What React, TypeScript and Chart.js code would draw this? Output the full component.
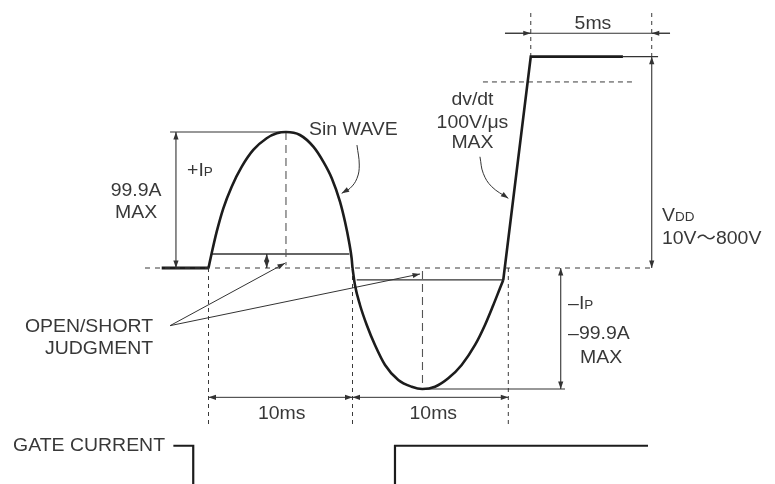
import { useEffect, useRef } from "react";
import { Chart, registerables } from "chart.js";

Chart.register(...registerables);

// ---------- data (time in ms, level in A / scaled V) ----------
const baseMs = [-3.25, 0];
const baseLvl = [0, 0];

const posHalfMs = [0, 0.22, 0.57, 1.03, 1.61, 2.31, 3.11, 4.04, 4.74, 5.38, 6.35, 7.28, 7.97, 8.56, 9.13, 9.48, 9.76, 9.94, 10.0];
const posHalfLvl = [0, 10.8, 26.7, 43.9, 59.8, 74.5, 86.8, 95.4, 99.0, 100, 97.8, 89.2, 78.2, 66.0, 48.8, 34.0, 19.3, 7.1, 0];

const negHalfMs = [10.0, 10.17, 10.52, 10.99, 11.56, 12.26, 13.18, 14.11, 14.85, 15.73, 16.65, 17.58, 18.51, 19.2, 19.78, 20.24, 20.47];
const negHalfLvl = [0, -12.5, -27.2, -41.9, -56.6, -71.3, -82.4, -87.3, -89.0, -87.3, -81.1, -71.3, -56.6, -41.9, -27.2, -14.9, -8.8];

const riseMs = [20.47, 22.38, 28.78];
const riseLvl = [-8.8, 155.4, 155.4];
const topThinMs = [28.78, 31.22];
const topLvl = 155.4;

const peakLvl = 100;
const troughLvl = -89;
const judgePosLvl = 10.3;
const judgeNegLvl = -8.8;
const dvdtRefLvl = 136.8;
const dimTopLvl = 172.6;
const dim5Top = 187.5;
const dim10Lvl = -95.1;
const dim10Bottom = -115.4;
const gateHigh = -130.7;
const gateLow = -170;

const edgeMs = [0, 10, 20.82];
const peakMs = 5.38;
const troughMs = 14.86;
const riseTopMs = 22.38;
const vddMs = 30.78;
const ipArrowMs = -2.26;
const negIpArrowMs = 24.46;
const smallArrowMs = 4.04;

const sinArrowMs = [10.31, 10.47, 10.31, 9.83, 9.25];
const sinArrowLvl = [90.4, 75.7, 65.9, 58.6, 54.9];
const dvArrowMs = [18.85, 19.08, 19.67, 20.82];
const dvArrowLvl = [81.8, 69.6, 59.8, 51.2];

const judgeFrom = [-2.67, -42.4];
const judgeToA = [5.31, 3.5];
const judgeToB = [14.69, -4.4];

const gate1Ms = [-2.44, -1.06, -1.06];
const gate2Ms = [12.95, 12.95, 30.52];

// ---------- layout ----------
const W = 775;
const H = 484;
const X0 = 208.5;
const PXMS = 14.4;
const Y0 = 268;
const PXA = 1.36;

type Run = [string, boolean?];
type Label = { runs: Run[]; x: number; y: number; align: "left" | "center" | "right" };

const labels: Label[] = [
  { runs: [["Sin WAVE"]], x: 6.98, y: 102.9, align: "left" },
  { runs: [["+I"], ["P", true]], x: -1.49, y: 72.1, align: "left" },
  { runs: [["99.9A"]], x: -5.03, y: 57.4, align: "center" },
  { runs: [["MAX"]], x: -5.03, y: 41.2, align: "center" },
  { runs: [["OPEN/SHORT"]], x: -3.85, y: -42.6, align: "right" },
  { runs: [["JUDGMENT"]], x: -3.85, y: -58.8, align: "right" },
  { runs: [["dv/dt"]], x: 18.33, y: 124.3, align: "center" },
  { runs: [["100V/μs"]], x: 18.33, y: 107.6, align: "center" },
  { runs: [["MAX"]], x: 18.33, y: 92.9, align: "center" },
  { runs: [["5ms"]], x: 26.7, y: 180.4, align: "center" },
  { runs: [["V"], ["DD", true]], x: 31.49, y: 39.0, align: "left" },
  { runs: [["10V〜800V"]], x: 31.49, y: 22.1, align: "left" },
  { runs: [["–I"], ["P", true]], x: 24.97, y: -25.7, align: "left" },
  { runs: [["–99.9A"]], x: 24.97, y: -47.8, align: "left" },
  { runs: [["MAX"]], x: 25.8, y: -65.4, align: "left" },
  { runs: [["10ms"]], x: 5.08, y: -106.6, align: "center" },
  { runs: [["10ms"]], x: 15.61, y: -106.6, align: "center" },
  { runs: [["GATE CURRENT"]], x: -3.02, y: -130.1, align: "right" },
];

type Seg = {
  xs: number[];
  ys: number[];
  w?: number;
  color?: string;
  dash?: number[];
  mono?: boolean;
  tension?: number;
  a0?: boolean;
  a1?: boolean;
};

const WAVE = "#1c1c1c";
const THIN = "#333333";
const DASH = "#3a3a3a";

const segs: Seg[] = [
  // dashed baseline
  { xs: [-4.41, 30.8], ys: [0, 0], w: 1.1, color: DASH, dash: [5, 5] },
  // waveform
  { xs: baseMs, ys: baseLvl, w: 2.8, color: WAVE },
  { xs: posHalfMs, ys: posHalfLvl, w: 2.6, color: WAVE, mono: true },
  { xs: negHalfMs, ys: negHalfLvl, w: 2.6, color: WAVE, mono: true },
  { xs: riseMs, ys: riseLvl, w: 2.6, color: WAVE },
  { xs: topThinMs, ys: [topLvl, topLvl], w: 1.1, color: THIN },
  // peak reference
  { xs: [-2.67, peakMs], ys: [peakLvl, peakLvl], w: 1.1, color: THIN },
  { xs: [ipArrowMs, ipArrowMs], ys: [peakLvl, 0], w: 1.1, color: THIN, a0: true, a1: true },
  { xs: [peakMs, peakMs], ys: [peakLvl, 2], w: 1.1, color: "#555", dash: [8, 5] },
  // judgment levels
  { xs: [0.22, 9.78], ys: [judgePosLvl, judgePosLvl], w: 1.3, color: THIN },
  { xs: [smallArrowMs, smallArrowMs], ys: [judgePosLvl, 0], w: 1.0, color: THIN, a0: true, a1: true },
  { xs: [10.29, 20.47], ys: [judgeNegLvl, judgeNegLvl], w: 1.3, color: THIN },
  { xs: [judgeFrom[0], judgeToA[0]], ys: [judgeFrom[1], judgeToA[1]], w: 1.0, color: THIN, a1: true },
  { xs: [judgeFrom[0], judgeToB[0]], ys: [judgeFrom[1], judgeToB[1]], w: 1.0, color: THIN, a1: true },
  // trough reference
  { xs: [troughMs, troughMs], ys: [-2.2, troughLvl], w: 1.1, color: "#555", dash: [8, 5] },
  { xs: [troughMs, 24.76], ys: [troughLvl, troughLvl], w: 1.1, color: THIN },
  { xs: [negIpArrowMs, negIpArrowMs], ys: [0, troughLvl], w: 1.1, color: THIN, a0: true, a1: true },
  // VDD
  { xs: [vddMs, vddMs], ys: [topLvl, 0], w: 1.1, color: THIN, a0: true, a1: true },
  { xs: [19.06, 29.48], ys: [dvdtRefLvl, dvdtRefLvl], w: 1.0, color: DASH, dash: [5, 4] },
  // 5ms dimension
  { xs: [riseTopMs, riseTopMs], ys: [dim5Top, topLvl], w: 1.0, color: DASH, dash: [4, 4] },
  { xs: [vddMs, vddMs], ys: [dim5Top, topLvl], w: 1.0, color: DASH, dash: [4, 4] },
  { xs: [20.59, 32.05], ys: [dimTopLvl, dimTopLvl], w: 1.0, color: THIN },
  { xs: [20.59, riseTopMs], ys: [dimTopLvl, dimTopLvl], w: 1.0, color: THIN, a1: true },
  { xs: [32.05, vddMs], ys: [dimTopLvl, dimTopLvl], w: 1.0, color: THIN, a1: true },
  // 10ms dimensions
  ...edgeMs.map((m) => ({ xs: [m, m], ys: [0, dim10Bottom], w: 1.0, color: DASH, dash: [4, 4] } as Seg)),
  { xs: [edgeMs[0], edgeMs[1]], ys: [dim10Lvl, dim10Lvl], w: 1.0, color: THIN, a0: true, a1: true },
  { xs: [edgeMs[1], edgeMs[2]], ys: [dim10Lvl, dim10Lvl], w: 1.0, color: THIN, a0: true, a1: true },
  // callout arrows
  { xs: sinArrowMs, ys: sinArrowLvl, w: 1.0, color: THIN, tension: 0.4, a1: true },
  { xs: dvArrowMs, ys: dvArrowLvl, w: 1.0, color: THIN, tension: 0.4, a1: true },
  // gate current
  { xs: gate1Ms, ys: [gateHigh, gateHigh, gateLow], w: 2.2, color: WAVE },
  { xs: gate2Ms, ys: [gateLow, gateHigh, gateHigh], w: 2.2, color: WAVE },
];

const FONT = '"Liberation Sans", "Noto Sans CJK JP", sans-serif';
const SX = 1.08;

function drawRuns(ctx: CanvasRenderingContext2D, runs: Run[], x: number, y: number, align: string) {
  const big = 18;
  const small = 12.5;
  let total = 0;
  const ws: number[] = [];
  for (const [t, s] of runs) {
    ctx.font = `${s ? small : big}px ${FONT}`;
    const w = ctx.measureText(t).width;
    ws.push(w);
    total += w;
  }
  total *= SX;
  const sx = align === "left" ? x : align === "center" ? x - total / 2 : x - total;
  ctx.save();
  ctx.translate(sx, y + big * 0.36);
  ctx.scale(SX, 1);
  ctx.fillStyle = "#383838";
  ctx.textBaseline = "alphabetic";
  ctx.textAlign = "left";
  let cx = 0;
  runs.forEach(([t, s], i) => {
    ctx.font = `${s ? small : big}px ${FONT}`;
    ctx.fillText(t, cx, 0);
    cx += ws[i];
  });
  ctx.restore();
}

function arrowHead(ctx: CanvasRenderingContext2D, fx: number, fy: number, tx: number, ty: number, color: string) {
  const ang = Math.atan2(ty - fy, tx - fx);
  const L = 7.5;
  const hw = 2.6;
  ctx.save();
  ctx.translate(tx, ty);
  ctx.rotate(ang);
  ctx.fillStyle = color;
  ctx.beginPath();
  ctx.moveTo(0, 0);
  ctx.lineTo(-L, hw);
  ctx.lineTo(-L, -hw);
  ctx.closePath();
  ctx.fill();
  ctx.restore();
}

const annotPlugin = {
  id: "annot",
  afterDatasetsDraw(chart: any) {
    const ctx: CanvasRenderingContext2D = chart.ctx;
    chart.data.datasets.forEach((ds: any, i: number) => {
      const pts = chart.getDatasetMeta(i).data;
      if (!pts || pts.length < 2) return;
      if (ds.a1) {
        const a = pts[pts.length - 2];
        const b = pts[pts.length - 1];
        arrowHead(ctx, a.x, a.y, b.x, b.y, ds.borderColor);
      }
      if (ds.a0) {
        const a = pts[1];
        const b = pts[0];
        arrowHead(ctx, a.x, a.y, b.x, b.y, ds.borderColor);
      }
    });
  },
  afterDraw(chart: any) {
    const ctx: CanvasRenderingContext2D = chart.ctx;
    const xs = chart.scales.x;
    const ys = chart.scales.y;
    for (const l of labels) {
      drawRuns(ctx, l.runs, xs.getPixelForValue(l.x), ys.getPixelForValue(l.y), l.align);
    }
  },
};

export default function App() {
  const ref = useRef<HTMLCanvasElement | null>(null);
  useEffect(() => {
    document.body.style.margin = "0";
    const canvas = ref.current;
    if (!canvas) return;
    const datasets = segs.map((s) => ({
      data: s.xs.map((x, i) => ({ x, y: s.ys[i] })),
      showLine: true,
      borderColor: s.color || THIN,
      borderWidth: s.w || 1,
      borderDash: s.dash || [],
      pointRadius: 0,
      pointHoverRadius: 0,
      fill: false,
      tension: s.tension || 0,
      cubicInterpolationMode: s.mono ? "monotone" : "default",
      borderCapStyle: "butt",
      borderJoinStyle: "miter",
      a0: !!s.a0,
      a1: !!s.a1,
    }));
    const chart = new Chart(canvas, {
      type: "scatter",
      data: { datasets } as any,
      options: {
        animation: false,
        responsive: false,
        maintainAspectRatio: false,
        layout: { padding: 0 },
        events: [],
        plugins: { legend: { display: false }, tooltip: { enabled: false } },
        scales: {
          x: { type: "linear", display: false, min: -X0 / PXMS, max: (W - X0) / PXMS },
          y: { type: "linear", display: false, min: -(H - Y0) / PXA, max: Y0 / PXA },
        },
      } as any,
      plugins: [annotPlugin],
    });
    return () => chart.destroy();
  }, []);
  return (
    <div style={{ width: W, height: H, background: "#fff" }}>
      <canvas ref={ref} width={W} height={H} style={{ width: W, height: H, display: "block" }} />
    </div>
  );
}
